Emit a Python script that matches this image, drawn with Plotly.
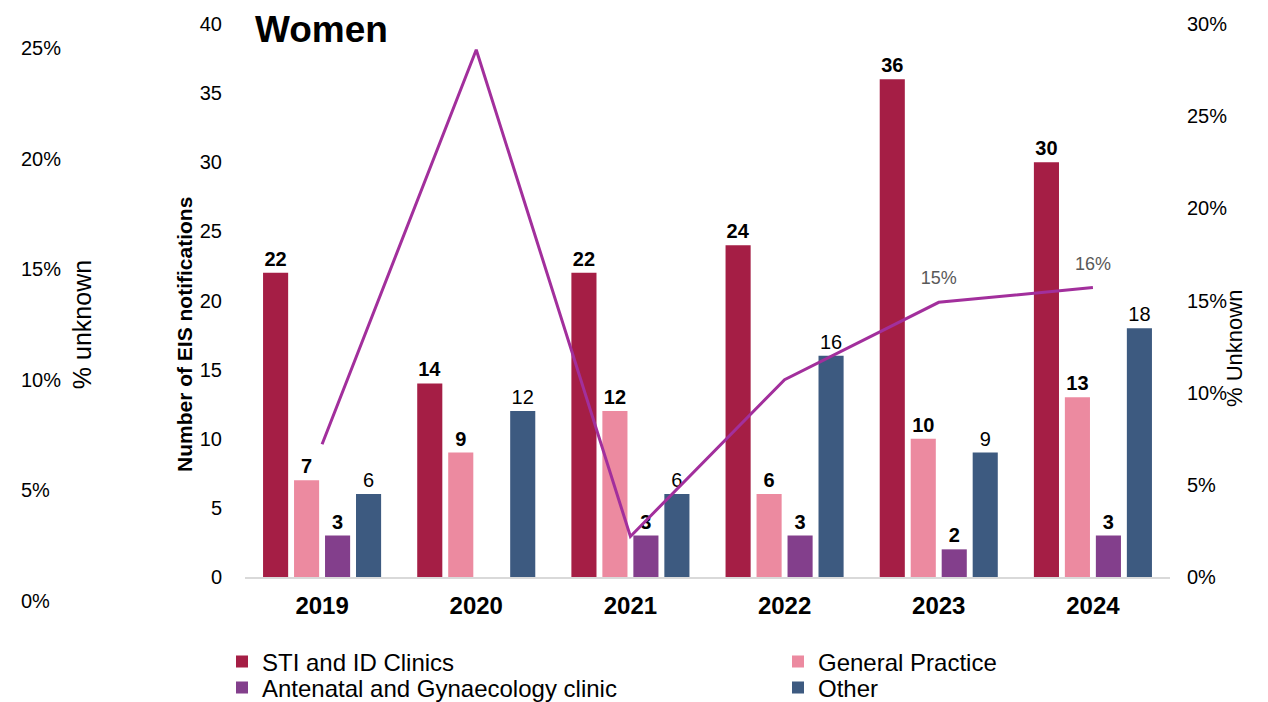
import plotly.graph_objects as go

years = ["2019", "2020", "2021", "2022", "2023", "2024"]
sti = [22, 14, 22, 24, 36, 30]
gp = [7, 9, 12, 6, 10, 13]
antenatal = [3, None, 3, 3, 2, 3]
other = [6, 12, 6, 16, 9, 18]
pct_unknown = [0.072, 0.286, 0.022, 0.107, 0.149, 0.157]
pct_labels = ["", "", "", "", "15%", "16%"]

series_names = ["STI and ID Clinics", "General Practice",
                "Antenatal and Gynaecology clinic", "Other"]
series_vals = [sti, gp, antenatal, other]
colors = ["#A51E45", "#EC8AA0", "#833F8C", "#3D5A80"]
bold_labels = [True, True, True, False]
legend_ids = ["legend", "legend", "legend2", "legend2"]

FONT = "Liberation Sans, Arial, sans-serif"

W, H = 1268, 702
OFF = 8  # page body margin
ML, MR, MT, MB = 2, 106, 16, 109
PW = W - ML - MR
PH = H - MT - MB


def sx(x):
    return (x - OFF - ML) / PW


def sy(y):
    return (H - MB - (y - OFF)) / PH


fig = go.Figure()

for name, vals, col, b, lg in zip(series_names, series_vals, colors,
                                  bold_labels, legend_ids):
    fig.add_trace(go.Bar(
        x=years, y=vals, name=name, legend=lg,
        marker=dict(color=col, line=dict(width=0)),
        texttemplate=["%{y}" if v is not None else "" for v in vals],
        textposition="outside",
        constraintext="none",
        cliponaxis=False,
        textfont=dict(family=FONT, size=20, color="#000000",
                      weight="bold" if b else "normal"),
        hoverinfo="skip",
    ))

fig.add_trace(go.Scatter(
    x=years, y=pct_unknown, yaxis="y2", mode="lines+markers+text",
    line=dict(color="#A22F9C", width=3),
    marker=dict(size=20, color="rgba(0,0,0,0)"),
    text=pct_labels, textposition="top center",
    textfont=dict(family=FONT, size=18, color="#595959"),
    showlegend=False, hoverinfo="skip", cliponaxis=False,
))

# ghost left axis trace (invisible)
fig.add_trace(go.Scatter(
    x=[years[0]], y=[0], yaxis="y3", mode="markers",
    marker=dict(color="rgba(0,0,0,0)", size=1),
    showlegend=False, hoverinfo="skip",
))

legend_common = dict(
    orientation="h", xanchor="left", yanchor="middle",
    entrywidth=511, entrywidthmode="pixels",
    font=dict(family=FONT, size=24, color="#000000"),
    traceorder="normal", bgcolor="rgba(0,0,0,0)",
)

fig.update_layout(
    width=W, height=H,
    margin=dict(l=ML, r=MR, t=MT, b=MB, autoexpand=False),
    paper_bgcolor="white", plot_bgcolor="rgba(0,0,0,0)",
    font=dict(family=FONT, size=20, color="#000000"),
    barmode="group", bargap=0.196, bargroupgap=0.19,
    xaxis=dict(
        domain=[sx(245), 1], type="category",
        showline=True, linecolor="#D9D9D9", linewidth=1.5,
        showgrid=False, zeroline=False,
        ticks="outside", ticklen=6, tickcolor="rgba(0,0,0,0)",
        tickfont=dict(family=FONT, size=24, weight="bold", color="#000000"),
        anchor="y",
    ),
    yaxis=dict(
        domain=[sy(577), 1], range=[0, 40], dtick=5,
        showgrid=False, zeroline=False, showline=False,
        ticklabelstandoff=22,
        tickfont=dict(family=FONT, size=20, color="#000000"),
    ),
    yaxis2=dict(
        overlaying="y", side="right", range=[0, 0.30], dtick=0.05,
        tickformat=".0%", showgrid=False, zeroline=False, showline=False,
        ticklabelstandoff=16,
        tickfont=dict(family=FONT, size=20, color="#000000"),
    ),
    yaxis3=dict(
        anchor="free", position=sx(18), side="right",
        domain=[0, sy(48)], range=[0, 0.25], dtick=0.05,
        tickformat=".0%", showgrid=False, zeroline=False, showline=False,
        ticklabelstandoff=2,
        tickfont=dict(family=FONT, size=20, color="#000000"),
        title=dict(text="% unknown", standoff=13,
                   font=dict(family=FONT, size=25, color="#000000")),
    ),
    legend=dict(x=sx(222), y=sy(662), **legend_common),
    legend2=dict(x=sx(222), y=sy(688), **legend_common),
    showlegend=True,
    annotations=[
        dict(text="<b>Women</b>", x=sx(253), y=sy(29), xref="paper",
             yref="paper", xanchor="left", yanchor="middle", showarrow=False,
             font=dict(family=FONT, size=37, color="#000000")),
        dict(text="<b>Number of EIS notifications</b>", x=sx(184),
             y=sy(335), xref="paper", yref="paper", textangle=-90,
             xanchor="center", yanchor="middle", showarrow=False,
             font=dict(family=FONT, size=21, color="#000000")),
        dict(text="% Unknown", x=sx(1234), y=sy(349), xref="paper",
             yref="paper", textangle=-90, xanchor="center", yanchor="middle",
             showarrow=False,
             font=dict(family=FONT, size=22, color="#000000")),
    ],
)

fig.write_html("out.html", config={"displayModeBar": False})
